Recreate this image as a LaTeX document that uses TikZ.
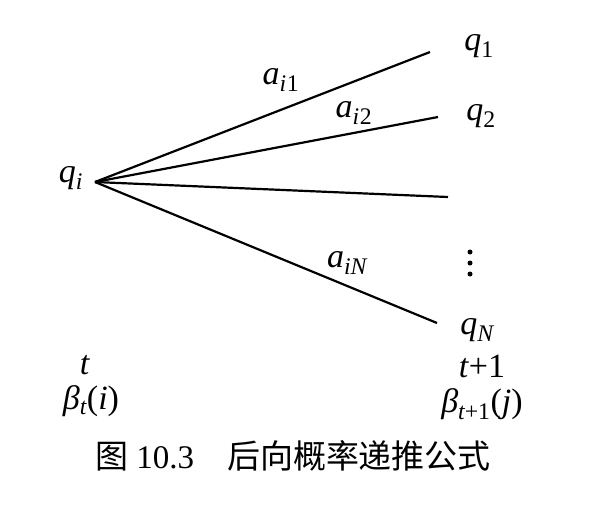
\documentclass[tikz,border=0pt]{standalone}
\usepackage{fontspec}
\setmainfont{Liberation Serif}
\newfontfamily\cjk{Noto Sans CJK SC}
\newcommand{\vr}[1]{\textit{#1}}
\newcommand{\sbs}[1]{\textsubscript{\itshape #1}}
\begin{document}
\begin{tikzpicture}[x=1pt,y=-1pt,
  lbl/.style={inner sep=0pt, font=\fontsize{34}{38}\selectfont},
  edge/.style={line width=2.2pt},
  dot/.style={circle, fill=black, inner sep=0pt, minimum size=5pt}]
\useasboundingbox (0,0) rectangle (592,504);
\fill[white] (0,0) rectangle (592,504);
\node[lbl] (qi) at (71,178) {\vr{q}\sbs{i}};
\coordinate (hub) at (95,182);
\coordinate (e1) at (430,52);
\coordinate (e2) at (438,117);
\coordinate (e3) at (448,197);
\coordinate (e4) at (437,323);
\draw[edge] (hub) -- (e1);
\draw[edge] (hub) -- (e2);
\draw[edge] (hub) -- (e3);
\draw[edge] (hub) -- (e4);
\node[lbl] (a1) at (281,80) {\vr{a}\sbs{i}\textsubscript{1}};
\node[lbl] (a2) at (354,113) {\vr{a}\sbs{i}\textsubscript{2}};
\node[lbl] (aN) at (347,263) {\vr{a}\sbs{iN}};
\node[lbl] (q1) at (479,46) {\vr{q}\textsubscript{1}};
\node[lbl] (q2) at (481,116) {\vr{q}\textsubscript{2}};
\node[dot] (d1) at (470,252) {};
\node[dot] (d2) at (470,263) {};
\node[dot] (d3) at (470,274) {};
\node[lbl] (qN) at (477,330) {\vr{q}\sbs{N}};
\node[lbl] (t) at (85,365) {\vr{t}};
\node[lbl] (bt) at (91,401) {\vr{β}\sbs{t}(\vr{i})};
\node[lbl] (t1) at (482,366) {\vr{t}+1};
\node[lbl] (bt1) at (482,404) {\vr{β}\textsubscript{\itshape t\upshape +1}(\vr{j})};
\node[inner sep=0pt, font=\fontsize{33}{36}\selectfont] (cap) at (293,456) {{\cjk 图}~10.3\hspace{1em}{\cjk 后向概率递推公式}};
\end{tikzpicture}
\end{document}
